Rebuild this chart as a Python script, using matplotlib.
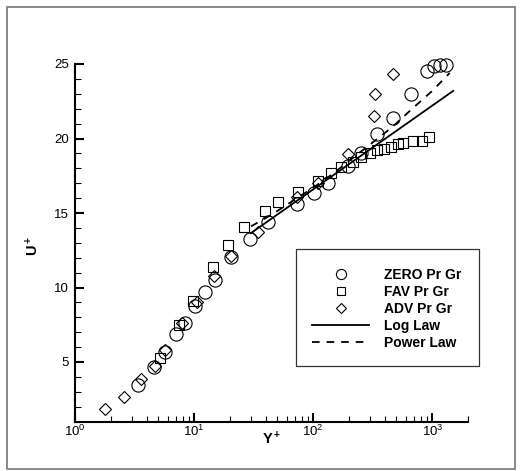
import matplotlib
matplotlib.use('Agg')
import matplotlib.pyplot as plt
from matplotlib.ticker import MultipleLocator, LogLocator, NullFormatter
from matplotlib.patches import Rectangle

plt.rcParams['font.family'] = ['Liberation Sans', 'DejaVu Sans']
plt.rcParams['mathtext.default'] = 'regular'
plt.rcParams['lines.scale_dashes'] = False

# ZERO Pr Gr (circles)
zero_y = [3.38, 4.6, 5.72, 6.98, 8.38, 10.1, 12.4, 14.9, 20.3, 29.6, 41.8, 73.2, 101,
          134, 196, 254, 340, 467, 660, 900, 1030, 1160, 1290]
zero_u = [3.46, 4.65, 5.69, 6.9, 7.6, 8.73, 9.7, 10.53, 12.02, 13.28, 14.41, 15.6, 16.34,
          17.0, 18.15, 19.06, 20.27, 21.38, 22.99, 24.5, 24.85, 24.9, 24.9]

# FAV Pr Gr (squares)
fav_y = [5.2, 7.46, 9.7, 14.4, 19.2, 26.4, 39.5, 50.6, 74, 110, 141, 170, 215, 250,
         300, 340, 390, 450, 513, 571, 685, 815, 930]
fav_u = [5.25, 7.5, 9.11, 11.38, 12.88, 14.06, 15.16, 15.72, 16.42, 17.18, 17.71, 18.06,
         18.45, 18.75, 19.05, 19.2, 19.3, 19.45, 19.6, 19.68, 19.8, 19.82, 20.08]

# ADV Pr Gr (diamonds)
adv_y = [1.77, 2.57, 3.6, 4.65, 5.7, 7.9, 10.5, 14.8, 20.5, 34.5, 73, 110, 195, 325, 332, 464]
adv_u = [1.83, 2.68, 3.84, 4.75, 5.8, 7.63, 9.05, 10.8, 12.1, 13.75, 16.1, 17.0, 18.97,
         21.54, 22.99, 24.33]

# Log law
log_y = [30, 1500]
log_u = [13.65, 23.2]

# Power law
pow_y = [30, 45, 70, 100, 150, 200, 300, 450, 700, 1000, 1400]
pow_u = [14.1, 14.9, 15.9, 16.7, 17.7, 18.5, 19.6, 20.7, 22.1, 23.2, 24.4]

W, H = 527, 471
fig = plt.figure(figsize=(W / 100, H / 100), dpi=100)
ax = fig.add_axes([75 / W, 1 - 421.6 / H, (468.2 - 75) / W, (421.6 - 64) / H])

mk = dict(linestyle='none', mfc='none', mec='black', mew=0.8, clip_on=False)
ax.plot(zero_y, zero_u, marker='o', ms=9.5, label='ZERO Pr Gr', **mk)
ax.plot(fav_y, fav_u, marker='s', ms=7, label='FAV Pr Gr', **mk)
ax.plot(adv_y, adv_u, marker='D', ms=6.3, label='ADV Pr Gr', **mk)
ax.plot(log_y, log_u, color='black', lw=1.3, label='Log Law')
ax.plot(pow_y, pow_u, color='black', lw=1.3, linestyle=(0, (5.5, 5)), label='Power Law')

ax.set_xscale('log')
ax.set_xlim(1, 2000)
ax.set_ylim(1, 25)
ax.yaxis.set_major_locator(MultipleLocator(5))
ax.yaxis.set_minor_locator(MultipleLocator(1))
ax.xaxis.set_major_locator(LogLocator(base=10))
ax.xaxis.set_minor_locator(LogLocator(base=10, subs=range(2, 10)))
ax.xaxis.set_minor_formatter(NullFormatter())

for s in ['top', 'right']:
    ax.spines[s].set_visible(False)
for s in ['left', 'bottom']:
    ax.spines[s].set_linewidth(1.5)

ax.tick_params(which='major', direction='in', length=6.5, width=1.5, labelsize=9.5)
ax.tick_params(which='minor', direction='in', length=4.3, width=0.8)
ax.tick_params(axis='y', which='major', pad=4.5)
ax.tick_params(axis='x', which='major', pad=1.5)

ax.set_xlabel('Y$^+$', fontsize=10.5, fontweight='bold')
ax.set_ylabel('U$^+$', fontsize=10.5, fontweight='bold')
ax.xaxis.set_label_coords(0.5, -0.024)
ax.yaxis.set_label_coords(-0.085, 0.49)

# legend frame drawn by hand
fig.patches.append(Rectangle((296 / W, 1 - 365.7 / H), (479.3 - 296) / W, (365.7 - 249.3) / H,
                             transform=fig.transFigure, fill=False, edgecolor='#333333', lw=0.9))
leg = ax.legend(loc='upper left', bbox_to_anchor=(311.7 / W, 1 - 268 / H),
                bbox_transform=fig.transFigure, frameon=False, borderpad=0, borderaxespad=0,
                handlelength=4.15, handletextpad=1.07, labelspacing=0.22, markerscale=0.77,
                prop={'weight': 'bold', 'size': 10})

# outer border
fig.patches.append(Rectangle((7 / W, 1 - 469 / H), (515 - 7) / W, (469 - 7) / H,
                             transform=fig.transFigure, fill=False, edgecolor='#808080', lw=1.3))

fig.savefig('out.png', dpi=100)
